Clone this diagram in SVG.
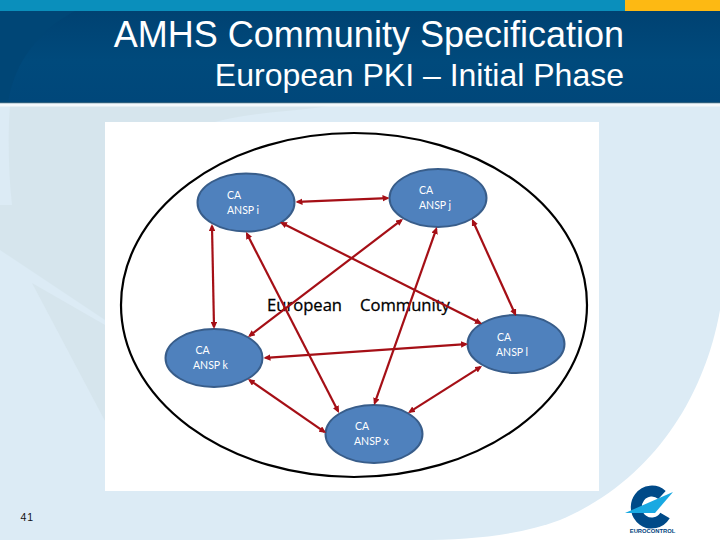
<svg xmlns="http://www.w3.org/2000/svg" width="720" height="540" viewBox="0 0 720 540">
<style>
.node ellipse{fill:#4f81bd;stroke:#385d8a;stroke-width:2}
.node text{font-family:"Lato","Liberation Sans",sans-serif;font-size:10.5px;fill:#fff}
#connectors line{stroke:#a50f16;stroke-width:2.2;marker-start:url(#arrow);marker-end:url(#arrow)}
.title{font-family:"Liberation Sans",Arial,sans-serif;fill:#fff;text-anchor:end}
.lab{font-family:"Open Sans","Liberation Sans",sans-serif;font-size:16.6px;fill:#000;stroke:#000;stroke-width:.3}
</style>
<defs>
<marker id="arrow" viewBox="0 0 7 6.500" refX="5" refY="3.250" markerWidth="7" markerHeight="6.500" markerUnits="userSpaceOnUse" orient="auto-start-reverse"><path d="M0 0L7 3.250L0 6.500Z" fill="#a50f16"/></marker>
<linearGradient id="band" x1="0" y1="0" x2="0" y2="1"><stop offset="0" stop-color="#004272"/><stop offset=".55" stop-color="#004a7c"/><stop offset="1" stop-color="#00477a"/></linearGradient>
</defs>
<g id="background">
<rect width="720" height="540" fill="#fff"/>
<path d="M0 106H720V310C704 400 650 482 560 520C520 535 470 540 420 540H0Z" fill="#dcebf5"/>
<path d="M10 106H330C290 112 250 112 215 122H105V320L0 250V205H12C8 170 8 130 10 106Z" fill="#d6e5ed"/>
<path d="M32 283L105 325V421Z" fill="#d6e5ed"/>
<rect y="0" width="720" height="11" fill="#0a8fbc"/>
<rect x="625" y="0" width="95" height="11" fill="#fdb913"/>
<rect y="11" width="720" height="91" fill="url(#band)"/>
<path d="M8 102C15 60 40 30 75 11H0V102Z" fill="#004676"/>
<rect y="102" width="720" height="1.500" fill="#2c5f7e"/>
<rect y="103.500" width="720" height="3" fill="#f4f9fc"/>
<rect x="105" y="122" width="494" height="369" fill="#fff"/>
</g>
<g id="header">
<text class="title" x="624" y="47" font-size="36">AMHS Community Specification</text>
<text class="title" x="624" y="86" font-size="32">European PKI – Initial Phase</text>
</g>
<g id="community">
<ellipse cx="354" cy="305" rx="233" ry="172" fill="none" stroke="#000" stroke-width="2.200"/>
<text class="lab" x="267" y="311">European</text>
<text class="lab" x="360" y="311">Community</text>
</g>
<g id="node-i" class="node"><ellipse cx="246" cy="202.500" rx="48.500" ry="29"/><text x="227" y="199">CA</text><text x="227" y="214">ANSP i</text></g>
<g id="node-j" class="node"><ellipse cx="438" cy="198" rx="48.500" ry="29"/><text x="419" y="194">CA</text><text x="419" y="209">ANSP j</text></g>
<g id="node-k" class="node"><ellipse cx="214" cy="358" rx="48.500" ry="29"/><text x="195.500" y="354">CA</text><text x="193" y="369">ANSP k</text></g>
<g id="node-l" class="node"><ellipse cx="516" cy="344" rx="48.500" ry="29"/><text x="497" y="341">CA</text><text x="496" y="356">ANSP l</text></g>
<g id="node-x" class="node"><ellipse cx="374" cy="434" rx="48.500" ry="29"/><text x="355" y="430">CA</text><text x="354" y="445">ANSP x</text></g>
<g id="connectors">
<line x1="297.500" y1="201.900" x2="387.500" y2="198.100"/>
<line x1="212" y1="226" x2="214" y2="327"/>
<line x1="246.900" y1="233.800" x2="338.100" y2="411.200"/>
<line x1="281.800" y1="222.900" x2="480.200" y2="323.100"/>
<line x1="401.400" y1="220.200" x2="249.600" y2="335.800"/>
<line x1="436.300" y1="228.900" x2="374.700" y2="403.100"/>
<line x1="472.800" y1="220.800" x2="515.200" y2="314.200"/>
<line x1="265.500" y1="357.900" x2="466" y2="344.100"/>
<line x1="249.600" y1="380.100" x2="324.400" y2="431.900"/>
<line x1="480.300" y1="367.100" x2="409.700" y2="411.900"/>
</g>
<g id="page-number"><text x="20.500" y="521" font-family="Liberation Sans,Arial,sans-serif" font-size="10.500" letter-spacing=".8" fill="#111">41</text></g>
<g id="logo">
<path d="M665 515.500A15.500 16 0 1 1 662 495" fill="none" stroke="#004a88" stroke-width="11"/>
<path d="M625 513L673 492L655 513Z" fill="#19a9e2"/>
<text x="652.500" y="532.500" text-anchor="middle" font-family="Liberation Sans,Arial,sans-serif" font-size="5.800" font-weight="bold" fill="#003f7d">EUROCONTROL</text>
</g>
</svg>
